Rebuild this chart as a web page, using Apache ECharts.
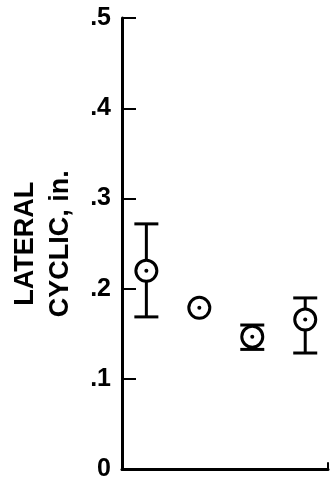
<!DOCTYPE html>
<html>
<head>
<meta charset="utf-8">
<script src="https://cdn.jsdelivr.net/npm/echarts@6/dist/echarts.min.js"></script>
<style>
html,body{margin:0;padding:0;background:#fff;}
#c{width:330px;height:482px;}
</style>
</head>
<body>
<div id="c"></div>
<script>
const categories = [1, 2, 3, 4];
const values = [0.220, 0.179, 0.147, 0.166];
const errLow = [0.169, null, 0.133, 0.129];
const errHigh = [0.272, null, 0.160, 0.190];
const yTickLabels = ['0', '.1', '.2', '.3', '.4', '.5'];
const yTitle = 'LATERAL\nCYCLIC, in.';

const pointData = categories.map((c, i) => [c, values[i]]);
const errData = [];
categories.forEach((c, i) => {
  if (errLow[i] != null) errData.push([c, errLow[i], errHigh[i]]);
});

const FONT = '"Liberation Sans", Arial, Helvetica, sans-serif';
const chart = echarts.init(document.getElementById('c'), null, {renderer: 'canvas'});
const xMin = 0.54, xMax = 4.43;
chart.setOption({
  animation: false,
  backgroundColor: '#fff',
  grid: {left: 118, right: 2, top: 18, bottom: 12},
  xAxis: {
    type: 'value', min: xMin, max: xMax,
    axisLine: {show: true, lineStyle: {color: '#000', width: 3}},
    axisTick: {show: false}, axisLabel: {show: false}, splitLine: {show: false}
  },
  yAxis: {
    type: 'value', min: 0, max: 0.5, interval: 0.1,
    axisLine: {show: true, lineStyle: {color: '#000', width: 3}},
    axisTick: {show: true, inside: true, length: 14, lineStyle: {color: '#000', width: 2}},
    axisLabel: {
      formatter: function (v) { return yTickLabels[Math.round(v * 10)]; },
      fontSize: 25, fontWeight: 'bold', color: '#000', margin: 11, fontFamily: FONT
    },
    splitLine: {show: false},
    name: yTitle, nameLocation: 'middle', nameGap: 44,
    nameTextStyle: {fontSize: 27, fontWeight: 'bold', color: '#000', lineHeight: 35, fontFamily: FONT}
  },
  series: [
    {
      type: 'custom',
      z: 2,
      data: errData,
      renderItem: function (params, api) {
        const x = api.value(0);
        const pLo = api.coord([x, api.value(1)]);
        const pHi = api.coord([x, api.value(2)]);
        const w = 12;
        const st = {stroke: '#000', lineWidth: 3};
        return {
          type: 'group',
          children: [
            {type: 'line', shape: {x1: pHi[0], y1: pHi[1], x2: pLo[0], y2: pLo[1]}, style: st},
            {type: 'line', shape: {x1: pHi[0] - w, y1: pHi[1], x2: pHi[0] + w, y2: pHi[1]}, style: st},
            {type: 'line', shape: {x1: pLo[0] - w, y1: pLo[1], x2: pLo[0] + w, y2: pLo[1]}, style: st}
          ]
        };
      }
    },
    {
      type: 'scatter',
      z: 3,
      data: pointData,
      symbol: 'circle',
      symbolSize: 21,
      itemStyle: {color: '#fff', borderColor: '#000', borderWidth: 3, opacity: 1},
      markLine: {
        silent: true,
        symbol: ['none', 'none'],
        label: {show: false},
        lineStyle: {color: '#000', width: 2, type: 'solid'},
        data: [[{coord: [xMax, 0]}, {coord: [xMax, 0.008]}]]
      }
    },
    {
      type: 'scatter',
      z: 4,
      data: pointData,
      symbol: 'circle',
      symbolSize: 4,
      itemStyle: {color: '#000', opacity: 1}
    }
  ]
});
</script>
</body>
</html>
